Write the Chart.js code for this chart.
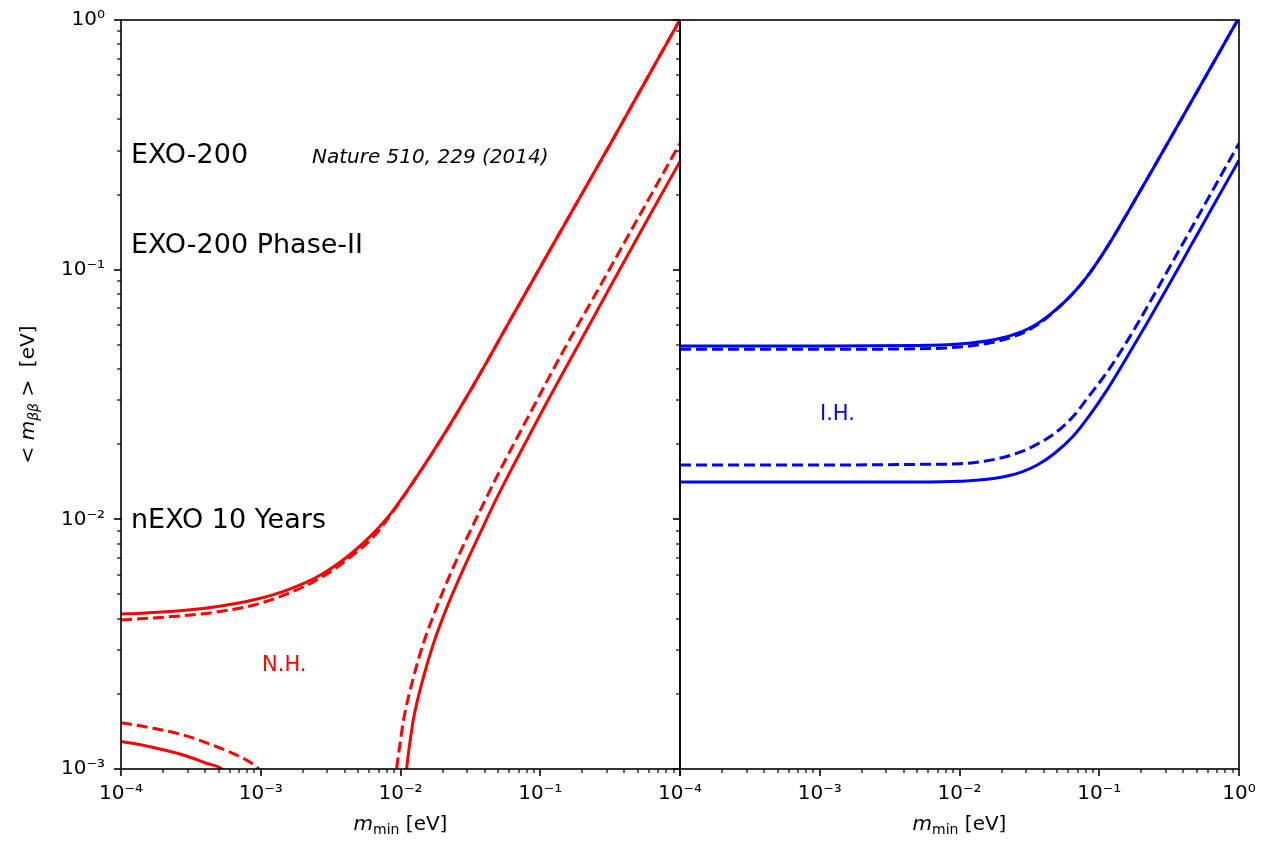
<!DOCTYPE html>
<html>
<head>
<meta charset="utf-8">
<script src="https://cdn.jsdelivr.net/npm/chart.js@4/dist/chart.umd.min.js"></script>
<style>
html,body{margin:0;padding:0;background:#fff;}
#wrap{position:relative;width:1261px;height:843px;background:#fff;}
canvas{position:absolute;left:0;top:0;}
</style>
</head>
<body>
<div id="wrap">
<canvas id="left" width="1261" height="843"></canvas>
<canvas id="right" width="1261" height="843"></canvas>
</div>
<script>
// ---------- data ----------
const xTickValues = [1e-4, 1e-3, 1e-2, 1e-1, 1];
const leftXTickLabels = ['10\u207B\u2074', '10\u207B\u00B3', '10\u207B\u00B2', '10\u207B\u00B9', ''];
const rightXTickLabels = ['10\u207B\u2074', '10\u207B\u00B3', '10\u207B\u00B2', '10\u207B\u00B9', '10\u2070'];
const yTickValues = [1e-3, 1e-2, 1e-1, 1];
const yTickLabels = ['10\u207B\u00B3', '10\u207B\u00B2', '10\u207B\u00B9', '10\u2070'];

// Normal hierarchy (left panel)
const nhMaxSolidX = [1e-4, 1.32e-4, 3.0e-4, 5.2e-4, 8.95e-4, 1.56e-3, 2.7e-3, 4.65e-3, 8.0e-3, 1.24e-2, 2.14e-2, 3.71e-2, 6.41e-2, 0.111, 0.192, 0.333, 0.578, 1.0];
const nhMaxSolidY = [4.18e-3, 4.2e-3, 4.33e-3, 4.5e-3, 4.76e-3, 5.22e-3, 6.0e-3, 7.45e-3, 1.01e-2, 1.42e-2, 2.28e-2, 3.83e-2, 6.6e-2, 0.1135, 0.1945, 0.3345, 0.5805, 1.003];
const nhMaxDashX = [1e-4, 3.0e-4, 5.2e-4, 8.95e-4, 1.56e-3, 2.7e-3, 4.65e-3, 6.46e-3, 8.0e-3, 1.24e-2, 2.14e-2, 3.71e-2, 6.41e-2, 0.111, 0.192, 0.333, 0.578, 1.0];
const nhMaxDashY = [3.95e-3, 4.13e-3, 4.28e-3, 4.54e-3, 5.04e-3, 5.84e-3, 7.25e-3, 8.55e-3, 9.95e-3, 1.415e-2, 2.275e-2, 3.825e-2, 6.6e-2, 0.1135, 0.1945, 0.3345, 0.5805, 1.003];
const nhMinLowSolidX = [1e-4, 1.61e-4, 2.79e-4, 4.1e-4, 5.26e-4, 6.5e-4];
const nhMinLowSolidY = [1.29e-3, 1.228e-3, 1.138e-3, 1.054e-3, 1.0e-3, 0.86e-3];
const nhMinLowDashX = [1e-4, 1.61e-4, 2.79e-4, 4.84e-4, 7.1e-4, 8.85e-4, 1.05e-3];
const nhMinLowDashY = [1.533e-3, 1.464e-3, 1.368e-3, 1.228e-3, 1.12e-3, 1.044e-3, 0.96e-3];
const nhMinHighSolidX = [1.06e-2, 1.107e-2, 1.18e-2, 1.236e-2, 1.456e-2, 1.718e-2, 2.14e-2, 2.81e-2, 3.71e-2, 4.75e-2, 6.41e-2, 0.111, 0.192, 0.333, 0.578, 1.0];
const nhMinHighSolidY = [0.75e-3, 1.006e-3, 1.33e-3, 1.58e-3, 2.32e-3, 3.17e-3, 4.42e-3, 6.3e-3, 8.8e-3, 1.18e-2, 1.64e-2, 2.93e-2, 5.12e-2, 8.98e-2, 0.157, 0.2715];
const nhMinHighDashX = [8.9e-3, 9.39e-3, 1.0e-2, 1.047e-2, 1.236e-2, 1.456e-2, 1.815e-2, 2.26e-2, 2.98e-2, 3.91e-2, 4.88e-2, 8.45e-2, 0.146, 0.254, 0.439, 0.76, 1.0];
const nhMinHighDashY = [0.75e-3, 1.006e-3, 1.3e-3, 1.55e-3, 2.32e-3, 3.18e-3, 4.45e-3, 6.0e-3, 8.4e-3, 1.15e-2, 1.48e-2, 2.66e-2, 4.72e-2, 8.15e-2, 0.141, 0.244, 0.321];

// Inverted hierarchy (right panel)
const ihX = [1e-4, 1e-3, 5e-3, 1e-2, 1.8e-2, 2.8e-2, 3.6e-2, 4.8e-2, 6.5e-2, 8.5e-2, 0.115, 0.16, 0.22, 0.32, 0.45, 0.65, 1.0];
const ihMaxSolidY = [0.0495, 0.0495, 0.0497, 0.0504, 0.0525, 0.0565, 0.0607, 0.0685, 0.0805, 0.0965, 0.1242, 0.1696, 0.231, 0.3328, 0.4649, 0.6676, 1.022];
const ihMaxDashY = [0.0480, 0.0480, 0.0482, 0.0490, 0.0514, 0.0556, 0.0601, 0.0683, 0.0805, 0.0965, 0.1242, 0.1696, 0.231, 0.3328, 0.4649, 0.6676, 1.022];
const ihMinDashY = [0.0165, 0.0165, 0.0166, 0.0167, 0.0174, 0.0187, 0.0200, 0.0221, 0.0258, 0.0313, 0.0392, 0.0522, 0.0708, 0.1028, 0.1444, 0.2085, 0.3205];
const ihMinSolidY = [0.0141, 0.0141, 0.0141, 0.0142, 0.0146, 0.0155, 0.0165, 0.0184, 0.0215, 0.0260, 0.0333, 0.0452, 0.0612, 0.0882, 0.124, 0.179, 0.2745];

// ---------- helpers ----------
const FONT = 'DejaVu Sans';
const RED = '#ff0000';
const BLUE = '#0000ff';
function pts(xs, ys) { return xs.map((x, i) => ({x: x, y: ys[i]})); }
function series(label, xs, ys, color, dashed) {
  return {
    label: label, data: pts(xs, ys), borderColor: color, backgroundColor: color,
    borderWidth: 3, pointRadius: 0, fill: false, clip: 0,
    cubicInterpolationMode: 'monotone',
    borderDash: dashed ? [11, 5] : []
  };
}

// draws matplotlib-like spines, tick marks, axis titles and annotations
const mplPlugin = {
  id: 'mpl',
  afterDraw(chart, args, o) {
    const ctx = chart.ctx, a = chart.chartArea;
    const xs = chart.scales.x, ys = chart.scales.y;
    ctx.save();
    ctx.strokeStyle = '#000';
    for (let e = -4; e <= 0; e++) {
      for (let m = 1; m <= 9; m++) {
        const v = m * Math.pow(10, e);
        if (v > 1.000001) break;
        const major = (m === 1);
        const len = major ? 7 : 4;
        ctx.lineWidth = major ? 1.6 : 1.2;
        const px = Math.round(xs.getPixelForValue(v));
        ctx.beginPath(); ctx.moveTo(px, a.bottom); ctx.lineTo(px, a.bottom + len); ctx.stroke();
        if (e >= -3) {
          const py = Math.round(ys.getPixelForValue(v));
          ctx.beginPath(); ctx.moveTo(a.left, py); ctx.lineTo(a.left - len, py); ctx.stroke();
        }
      }
    }
    ctx.lineWidth = 1.6;
    ctx.strokeRect(a.left, a.top, a.right - a.left, a.bottom - a.top);

    ctx.fillStyle = '#000';
    ctx.textBaseline = 'alphabetic';
    const parts = [
      {t: 'm', f: 'italic 20px "' + FONT + '"', dy: 0},
      {t: 'min', f: '14px "' + FONT + '"', dy: 4},
      {t: ' [eV]', f: '20px "' + FONT + '"', dy: 0}
    ];
    let w = 0;
    parts.forEach(p => { ctx.font = p.f; p.w = ctx.measureText(p.t).width; w += p.w; });
    let x0 = (a.left + a.right) / 2 - w / 2;
    parts.forEach(p => { ctx.font = p.f; ctx.fillText(p.t, x0, 830 + p.dy); x0 += p.w; });

    if (o.yTitle) {
      ctx.save();
      ctx.translate(34, (a.top + a.bottom) / 2);
      ctx.rotate(-Math.PI / 2);
      const yp = [
        {t: '< ', f: '20px "' + FONT + '"', dy: 0},
        {t: 'm', f: 'italic 20px "' + FONT + '"', dy: 0},
        {t: '\u03B2\u03B2', f: 'italic 14px "' + FONT + '"', dy: 4},
        {t: ' >  [eV]', f: '20px "' + FONT + '"', dy: 0}
      ];
      let wy = 0;
      yp.forEach(p => { ctx.font = p.f; p.w = ctx.measureText(p.t).width; wy += p.w; });
      let xx = -wy / 2;
      yp.forEach(p => { ctx.font = p.f; ctx.fillText(p.t, xx, p.dy); xx += p.w; });
      ctx.restore();
    }
    (o.texts || []).forEach(t => {
      ctx.font = t.f; ctx.fillStyle = t.c || '#000';
      ctx.fillText(t.t, t.x, t.y);
    });
    ctx.restore();
  }
};

function makeOptions(opts) {
  return {
    responsive: false,
    animation: false,
    devicePixelRatio: 1,
    layout: {padding: opts.padding},
    plugins: {legend: {display: false}, tooltip: {enabled: false}, mpl: opts.mpl},
    scales: {
      x: {
        type: 'logarithmic', min: 1e-4, max: 1,
        afterBuildTicks: s => { s.ticks = xTickValues.map(v => ({value: v, major: true})); },
        afterFit: s => { s.height = 74; s.paddingLeft = 0; s.paddingRight = 0; },
        grid: {display: true, drawOnChartArea: false, drawTicks: true, tickLength: 7, color: 'rgba(0,0,0,0)'},
        border: {display: false},
        ticks: {
          autoSkip: false, maxRotation: 0, minRotation: 0, padding: 6, color: '#000',
          font: {family: FONT, size: 20},
          callback: (v, i) => opts.xLabels[i]
        }
      },
      y: {
        type: 'logarithmic', min: 1e-3, max: 1,
        afterBuildTicks: s => { s.ticks = yTickValues.map(v => ({value: v, major: true})); },
        afterFit: s => { s.width = opts.yWidth; s.paddingTop = 0; s.paddingBottom = 0; },
        grid: {display: true, drawOnChartArea: false, drawTicks: true, tickLength: 7, color: 'rgba(0,0,0,0)'},
        border: {display: false},
        ticks: {
          display: opts.yLabels !== null, autoSkip: false, padding: 9, color: '#000',
          font: {family: FONT, size: 20},
          callback: (v, i) => (opts.yLabels ? opts.yLabels[i] : '')
        }
      }
    }
  };
}

const bigFont = '27px "' + FONT + '"';
new Chart(document.getElementById('left'), {
  type: 'line',
  data: {
    datasets: [
      series('NH max', nhMaxSolidX, nhMaxSolidY, RED, false),
      series('NH max (dashed)', nhMaxDashX, nhMaxDashY, RED, true),
      series('NH min low', nhMinLowSolidX, nhMinLowSolidY, RED, false),
      series('NH min low (dashed)', nhMinLowDashX, nhMinLowDashY, RED, true),
      series('NH min high', nhMinHighSolidX, nhMinHighSolidY, RED, false),
      series('NH min high (dashed)', nhMinHighDashX, nhMinHighDashY, RED, true)
    ]
  },
  options: makeOptions({
    padding: {left: 0, top: 20, right: 581, bottom: 0},
    yWidth: 121,
    xLabels: leftXTickLabels,
    yLabels: yTickLabels,
    mpl: {
      yTitle: true,
      texts: [
        {t: 'EXO-200', x: 131, y: 163, f: bigFont},
        {t: 'Nature 510, 229 (2014)', x: 312, y: 163, f: 'italic 20px "' + FONT + '"'},
        {t: 'EXO-200 Phase-II', x: 131, y: 253, f: bigFont},
        {t: 'nEXO 10 Years', x: 131, y: 528, f: bigFont},
        {t: 'N.H.', x: 262, y: 671, f: '21px "' + FONT + '"', c: RED}
      ]
    }
  }),
  plugins: [mplPlugin]
});

new Chart(document.getElementById('right'), {
  type: 'line',
  data: {
    datasets: [
      series('IH max', ihX, ihMaxSolidY, BLUE, false),
      series('IH max (dashed)', ihX, ihMaxDashY, BLUE, true),
      series('IH min (dashed)', ihX, ihMinDashY, BLUE, true),
      series('IH min', ihX, ihMinSolidY, BLUE, false)
    ]
  },
  options: makeOptions({
    padding: {left: 0, top: 20, right: 22, bottom: 0},
    yWidth: 680,
    xLabels: rightXTickLabels,
    yLabels: null,
    mpl: {
      yTitle: false,
      texts: [
        {t: 'I.H.', x: 820, y: 420, f: '21px "' + FONT + '"', c: BLUE}
      ]
    }
  }),
  plugins: [mplPlugin]
});
</script>
</body>
</html>
